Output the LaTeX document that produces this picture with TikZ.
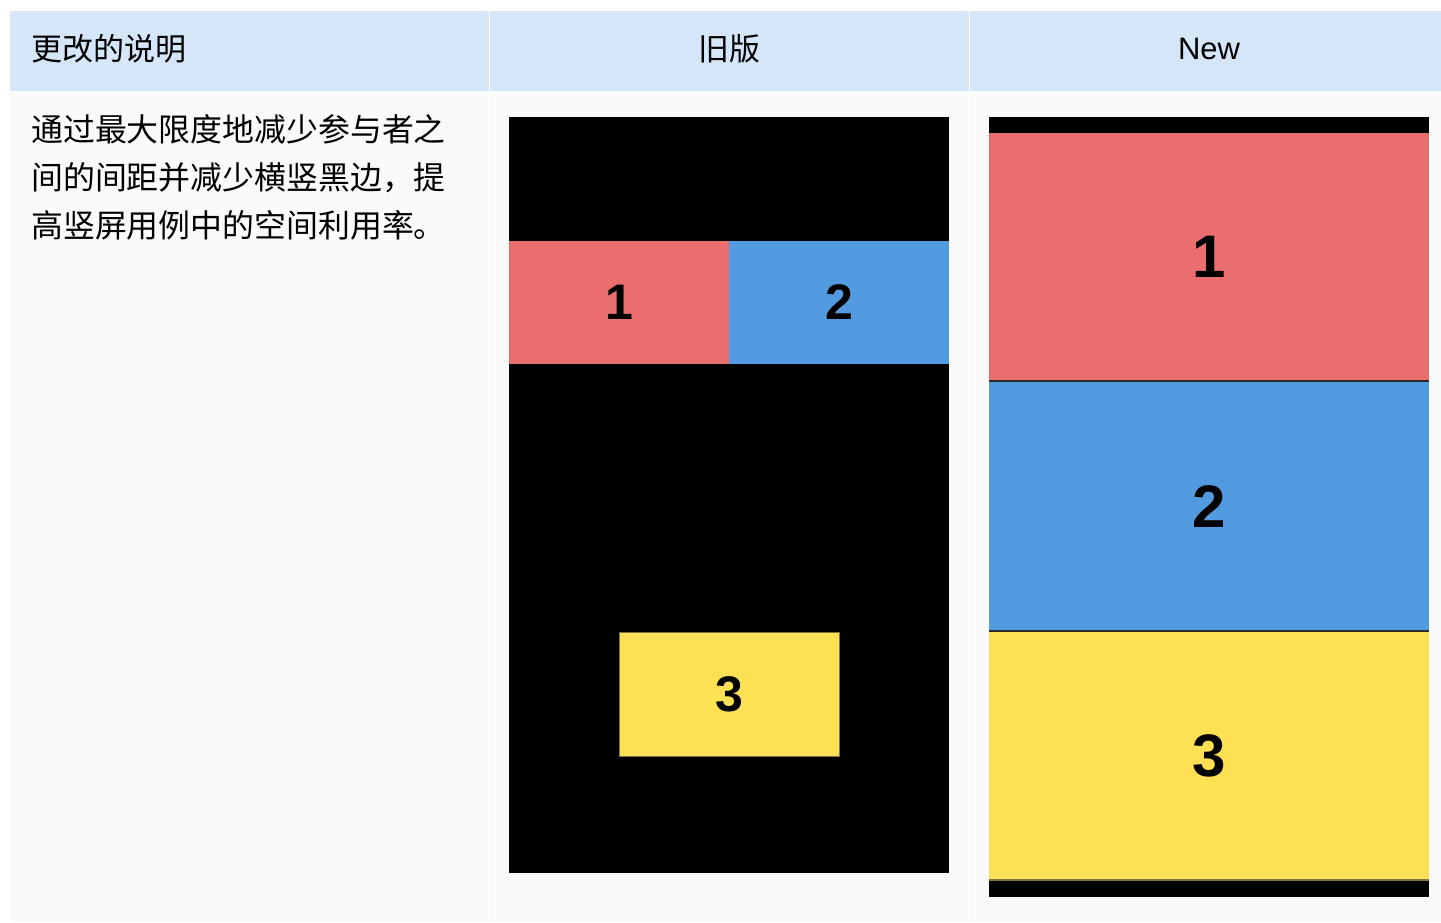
\documentclass[tikz,border=0pt]{standalone}
\usepackage{fontspec}
\newfontfamily\cjk{Noto Sans CJK SC}
\newfontfamily\latin{Liberation Sans}
\definecolor{head}{HTML}{D4E6F8}
\definecolor{body}{HTML}{FAFAFA}
\definecolor{tred}{HTML}{EA6E6E}
\definecolor{tblue}{HTML}{529BE0}
\definecolor{tyellow}{HTML}{FEE054}
\definecolor{seam}{HTML}{2A2A2A}

\begin{document}
\begin{tikzpicture}[x=1pt,y=-1pt,
  cell/.style={inner sep=0,outer sep=0,anchor=north west},
  tile/.style={inner sep=0,outer sep=0,font=\latin\bfseries\fontsize{50}{50}\selectfont},
  big/.style={tile,minimum width=440,font=\latin\bfseries\fontsize{60}{60}\selectfont},
  txt/.style={inner sep=0,font=\cjk\fontsize{31}{31}\selectfont},
  para/.style={txt,anchor=base west,font=\cjk\fontsize{31.9}{31.9}\selectfont}]
\useasboundingbox[fill=white] (0,0) rectangle (1441,922);
% ---------------- header row
\node[cell,fill=head,minimum width=479,minimum height=80] (h1) at (10,11) {};
\node[cell,fill=head,minimum width=479,minimum height=80] (h2) at (490,11) {};
\node[cell,fill=head,minimum width=471,minimum height=80] (h3) at (970,11) {};
\node[txt,anchor=base west] (h1t) at (31,60) {更改的说明};
\node[txt,anchor=base] (h2t) at (729,60) {旧版};
\node[txt,anchor=base,font=\latin\fontsize{31}{31}\selectfont] (h3t) at (1209,59) {New};

% ---------------- body row
\node[cell,fill=body,minimum width=479,minimum height=830] (b1) at (10,92) {};
\node[cell,fill=body,minimum width=479,minimum height=830] (b2) at (490,92) {};
\node[cell,fill=body,minimum width=471,minimum height=830] (b3) at (970,92) {};
\node[para] (l1) at (31,141) {通过最大限度地减少参与者之};
\node[para] (l2) at (31,189) {间的间距并减少横竖黑边，提};
\node[para] (l3) at (31,237) {高竖屏用例中的空间利用率。};

% ---------------- old layout
\node[cell,fill=black,minimum width=440,minimum height=756] (oldbg) at (509,117) {};
\node[tile,fill=tred,minimum width=220,minimum height=123] (o1) at (619,302.5) {1};
\node[tile,fill=tblue,minimum width=220,minimum height=123] (o2) at (839,302.5) {2};
\node[tile,fill=tyellow,draw=seam!60!tyellow,line width=1,minimum width=220,minimum height=124] (o3) at (729,694) {3};

% ---------------- new layout
\node[cell,fill=black,minimum width=440,minimum height=780] (newbg) at (989,117) {};
\node[big,fill=tred,minimum height=248] (n1) at (1209,257) {1};
\node[big,fill=tblue,minimum height=249] (n2) at (1209,506.5) {2};
\node[big,fill=tyellow,minimum height=248] (n3) at (1209,756) {3};
\draw[seam,line width=2] (n1.south west) -- (n1.south east);
\draw[seam,line width=2] (n2.south west) -- (n2.south east);
\draw[seam!60!tyellow,line width=1.5] (n3.south west) -- (n3.south east);
\end{tikzpicture}
\end{document}
